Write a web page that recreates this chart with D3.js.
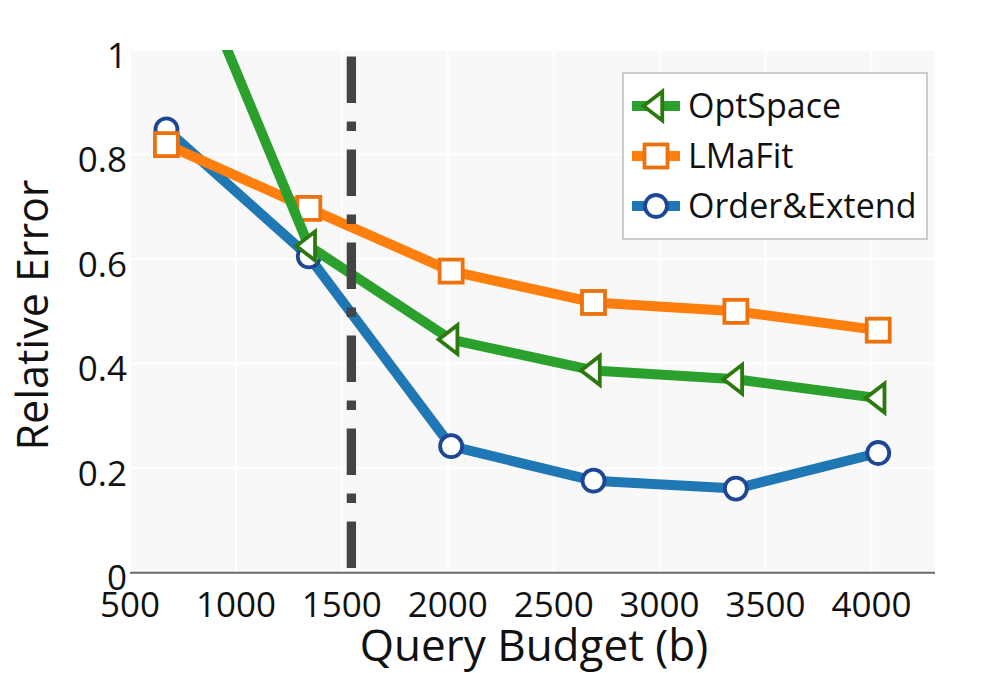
<!DOCTYPE html>
<html>
<head>
<meta charset="utf-8">
<script src="https://cdn.jsdelivr.net/npm/d3@7"></script>
<style>
  html, body { margin: 0; padding: 0; background: #ffffff; }
  svg { display: block; font-family: "Open Sans", "Noto Sans", sans-serif; }
</style>
</head>
<body>
<svg id="chart" width="1000" height="673"></svg>
<script>
// ---- data ----
const budgets = [672, 1344, 2016, 2688, 3360, 4032];
const optSpaceErr = [1.28, 0.625, 0.446, 0.387, 0.370, 0.334];
const lmaFitErr = [0.819, 0.697, 0.577, 0.517, 0.500, 0.464];
const orderExtendErr = [0.848, 0.605, 0.242, 0.176, 0.161, 0.229];
const thresholdBudget = [1545];
const xTickValues = [500, 1000, 1500, 2000, 2500, 3000, 3500, 4000];
const yTickValues = [0, 0.2, 0.4, 0.6, 0.8, 1];
const seriesNames = ["OptSpace", "LMaFit", "Order&Extend"];
const xTitle = "Query Budget (b)";
const yTitle = "Relative Error";

// ---- layout ----
const W = 1000, H = 673;
const plot = { left: 130, right: 935, top: 50, bottom: 572.7 };

const svg = d3.select("#chart");
const x = d3.scaleLinear().domain([500, 4300]).range([plot.left, plot.right]);
const y = d3.scaleLinear().domain([0, 1]).range([plot.bottom, plot.top]);

// background
svg.append("rect").attr("x", 0).attr("y", 0).attr("width", W).attr("height", H).attr("fill", "#ffffff");
svg.append("rect")
  .attr("x", plot.left).attr("y", plot.top)
  .attr("width", plot.right - plot.left).attr("height", plot.bottom - plot.top)
  .attr("fill", "#f8f8f8");

// grid
const grid = svg.append("g");
grid.selectAll("line.vx").data(xTickValues).join("line")
  .attr("x1", d => x(d)).attr("x2", d => x(d))
  .attr("y1", plot.top).attr("y2", plot.bottom)
  .attr("stroke", "#ffffff").attr("stroke-width", 2);
grid.selectAll("line.hy").data(yTickValues.filter(v => v > 0)).join("line")
  .attr("x1", plot.left).attr("x2", plot.right)
  .attr("y1", d => y(d)).attr("y2", d => y(d))
  .attr("stroke", "#ffffff").attr("stroke-width", 2);

// clip
svg.append("defs").append("clipPath").attr("id", "plotclip")
  .append("rect").attr("x", plot.left).attr("y", plot.top)
  .attr("width", plot.right - plot.left).attr("height", plot.bottom - plot.top);

// marker shapes
function trianglePath(r) {
  const rt = r * 2 / Math.sqrt(3), r2 = r / 2;
  return `M${r2},${-rt}V${rt}L${-r},0Z`;
}
const series = [
  { name: seriesNames[2], values: orderExtendErr, line: "#1f77b4", edge: "#1d4795", shape: "circle" },
  { name: seriesNames[1], values: lmaFitErr, line: "#ff7f0e", edge: "#ec720d", shape: "square" },
  { name: seriesNames[0], values: optSpaceErr, line: "#2ca02c", edge: "#2c7a0f", shape: "triangle" }
];

function drawMarker(g, shape, edge) {
  if (shape === "circle") {
    g.append("circle").attr("r", 11).attr("fill", "#fff").attr("stroke", edge).attr("stroke-width", 3.8);
  } else if (shape === "square") {
    g.append("rect").attr("x", -11.5).attr("y", -11.5).attr("width", 23).attr("height", 23)
      .attr("fill", "#fff").attr("stroke", edge).attr("stroke-width", 3.8);
  } else {
    g.append("path").attr("d", trianglePath(12.5)).attr("fill", "#fff")
      .attr("stroke", edge).attr("stroke-width", 3.8).attr("stroke-linejoin", "miter");
  }
}

const traces = svg.append("g").attr("clip-path", "url(#plotclip)");
const lineGen = d3.line().x(d => x(d[0])).y(d => y(d[1]));
series.forEach(s => {
  const pts = budgets.map((b, i) => [b, s.values[i]]);
  const g = traces.append("g");
  g.append("path").attr("d", lineGen(pts)).attr("fill", "none")
    .attr("stroke", s.line).attr("stroke-width", 10).attr("stroke-linejoin", "round");
  pts.forEach(p => {
    const m = g.append("g").attr("transform", `translate(${x(p[0])},${y(p[1])})`);
    drawMarker(m, s.shape, s.edge);
  });
});

// x axis line
svg.append("line").attr("x1", plot.left).attr("x2", plot.right)
  .attr("y1", plot.bottom).attr("y2", plot.bottom)
  .attr("stroke", "#6b6b6b").attr("stroke-width", 2);

// threshold vertical line (long dash-dot), pattern starting with a short gap at the top
const dw = 9.3;
const period = 10 * dw;
svg.append("g").selectAll("line").data(thresholdBudget).join("line")
  .attr("x1", d => x(d)).attr("x2", d => x(d))
  .attr("y1", y(1)).attr("y2", y(0))
  .attr("stroke", "#444444").attr("stroke-width", dw)
  .attr("stroke-dasharray", `${5 * dw},${2 * dw},${dw},${2 * dw}`)
  .attr("stroke-dashoffset", period - 6.5);

// tick labels
const fmtY = d => d === 0 ? "0" : d === 1 ? "1" : d3.format(".1f")(d);
svg.append("g").selectAll("text").data(yTickValues).join("text")
  .attr("x", 127).attr("y", d => y(d) + 17.5)
  .attr("text-anchor", "end").attr("font-size", 35).attr("fill", "#111")
  .text(fmtY);
svg.append("g").selectAll("text").data(xTickValues).join("text")
  .attr("x", d => x(d)).attr("y", 617)
  .attr("text-anchor", "middle").attr("font-size", 35).attr("fill", "#111")
  .text(d => d);

// axis titles
svg.append("text").attr("x", 534).attr("y", 661)
  .attr("text-anchor", "middle").attr("font-size", 44).attr("fill", "#111").text(xTitle);
svg.append("text").attr("transform", `translate(48,315) rotate(-90)`)
  .attr("text-anchor", "middle").attr("font-size", 43).attr("fill", "#111").text(yTitle);

// legend
const legend = svg.append("g");
legend.append("rect").attr("x", 623).attr("y", 73).attr("width", 304).attr("height", 166)
  .attr("fill", "#ffffff").attr("stroke", "#cccccc").attr("stroke-width", 2);
const legendOrder = [series[2], series[1], series[0]];
legendOrder.forEach((s, i) => {
  const cy = 106 + i * 50;
  const g = legend.append("g");
  g.append("line").attr("x1", 632).attr("x2", 680).attr("y1", cy).attr("y2", cy)
    .attr("stroke", s.line).attr("stroke-width", 10);
  const m = g.append("g").attr("transform", `translate(656,${cy})`);
  drawMarker(m, s.shape, s.edge);
  g.append("text").attr("x", 688).attr("y", cy + 12).attr("font-size", 34).attr("fill", "#111").text(s.name);
});
</script>
</body>
</html>
